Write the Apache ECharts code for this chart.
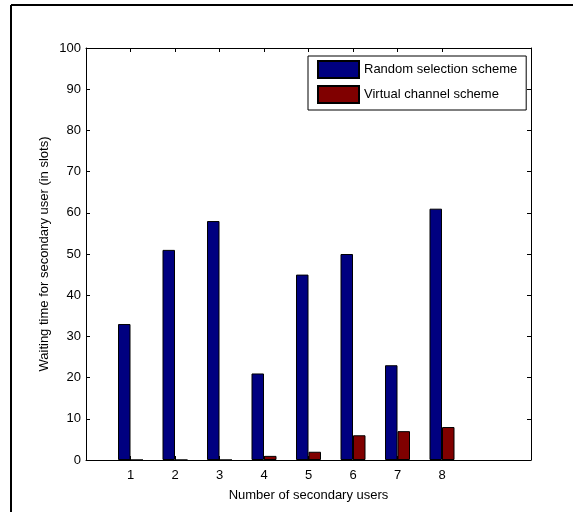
<!DOCTYPE html>
<html>
<head>
<meta charset="utf-8">
<script src="https://cdn.jsdelivr.net/npm/echarts@6/dist/echarts.min.js"></script>
<style>
html,body{margin:0;padding:0;background:#fff;}
#c{width:573px;height:512px;}
</style>
</head>
<body>
<div id="c"></div>
<script>
var categories = [1, 2, 3, 4, 5, 6, 7, 8];
var randomSelection = [33, 51, 58, 21, 45, 50, 23, 61];
var virtualChannel = [0, 0, 0, 1, 2, 6, 7, 8];
var yTicks = [0, 10, 20, 30, 40, 50, 60, 70, 80, 90, 100];
var seriesNames = ['Random selection scheme', 'Virtual channel scheme'];

var FONT = 'Liberation Sans, Arial, sans-serif';
var chart = echarts.init(document.getElementById('c'), null, {renderer: 'canvas'});

function pairs(vals) {
  return categories.map(function (c, i) { return [c, vals[i]]; });
}

var axisLine = {show: true, onZero: false, lineStyle: {color: '#000', width: 1}};

chart.setOption({
  animation: false,
  backgroundColor: '#fff',
  grid: {left: 86, right: 42, top: 48, bottom: 52, containLabel: false},
  legend: {
    orient: 'vertical',
    left: 308,
    top: 56,
    data: seriesNames,
    icon: 'rect',
    itemWidth: 41,
    itemHeight: 17,
    itemGap: 6,
    padding: [4, 9, 6, 9],
    borderColor: '#000',
    borderWidth: 1,
    backgroundColor: '#fff',
    textStyle: {fontFamily: FONT, fontSize: 13, color: '#000'}
  },
  xAxis: [{
    type: 'value', min: 0, max: 10, interval: 1, position: 'bottom',
    axisLine: axisLine,
    splitLine: {show: false},
    axisTick: {show: true, inside: true, length: 4, customValues: categories, lineStyle: {color: '#000'}},
    axisLabel: {show: true, customValues: categories, margin: 9, fontFamily: FONT, fontSize: 13, color: '#000'},
    name: 'Number of secondary users', nameLocation: 'middle', nameGap: 29, nameMoveOverlap: false,
    nameTextStyle: {fontFamily: FONT, fontSize: 13, color: '#000'}
  }, {
    type: 'value', min: 0, max: 10, interval: 1, position: 'top',
    axisLine: axisLine,
    splitLine: {show: false},
    axisTick: {show: true, inside: true, length: 4, customValues: categories, lineStyle: {color: '#000'}},
    axisLabel: {show: false}
  }],
  yAxis: [{
    type: 'value', min: 0, max: 100, interval: 10, position: 'left',
    axisLine: axisLine,
    splitLine: {show: false},
    axisTick: {show: true, inside: true, length: 4, customValues: yTicks, lineStyle: {color: '#000'}},
    axisLabel: {show: true, customValues: yTicks, margin: 5, fontFamily: FONT, fontSize: 13, color: '#000'},
    name: 'Waiting time for secondary user (in slots)', nameLocation: 'middle', nameGap: 35, nameMoveOverlap: false,
    nameTextStyle: {fontFamily: FONT, fontSize: 13, color: '#000'}
  }, {
    type: 'value', min: 0, max: 100, interval: 10, position: 'right',
    axisLine: axisLine,
    splitLine: {show: false},
    axisTick: {show: true, inside: true, length: 4, customValues: yTicks, lineStyle: {color: '#000'}},
    axisLabel: {show: false}
  }],
  series: [{
    name: seriesNames[0], type: 'bar', xAxisIndex: 0, yAxisIndex: 0,
    data: pairs(randomSelection),
    barWidth: 12.5, barGap: '0%',
    itemStyle: {color: '#000080', borderColor: '#000', borderWidth: 1}
  }, {
    name: seriesNames[1], type: 'bar', xAxisIndex: 0, yAxisIndex: 0,
    data: pairs(virtualChannel),
    barWidth: 12.5, barGap: '0%',
    itemStyle: {color: '#800000', borderColor: '#000', borderWidth: 1}
  }],
  graphic: [{
    type: 'line', shape: {x1: 11, y1: 5, x2: 573, y2: 5},
    style: {stroke: '#000', lineWidth: 2}, z: 100
  }, {
    type: 'line', shape: {x1: 11, y1: 5, x2: 11, y2: 512},
    style: {stroke: '#000', lineWidth: 2}, z: 100
  }]
});
</script>
</body>
</html>
